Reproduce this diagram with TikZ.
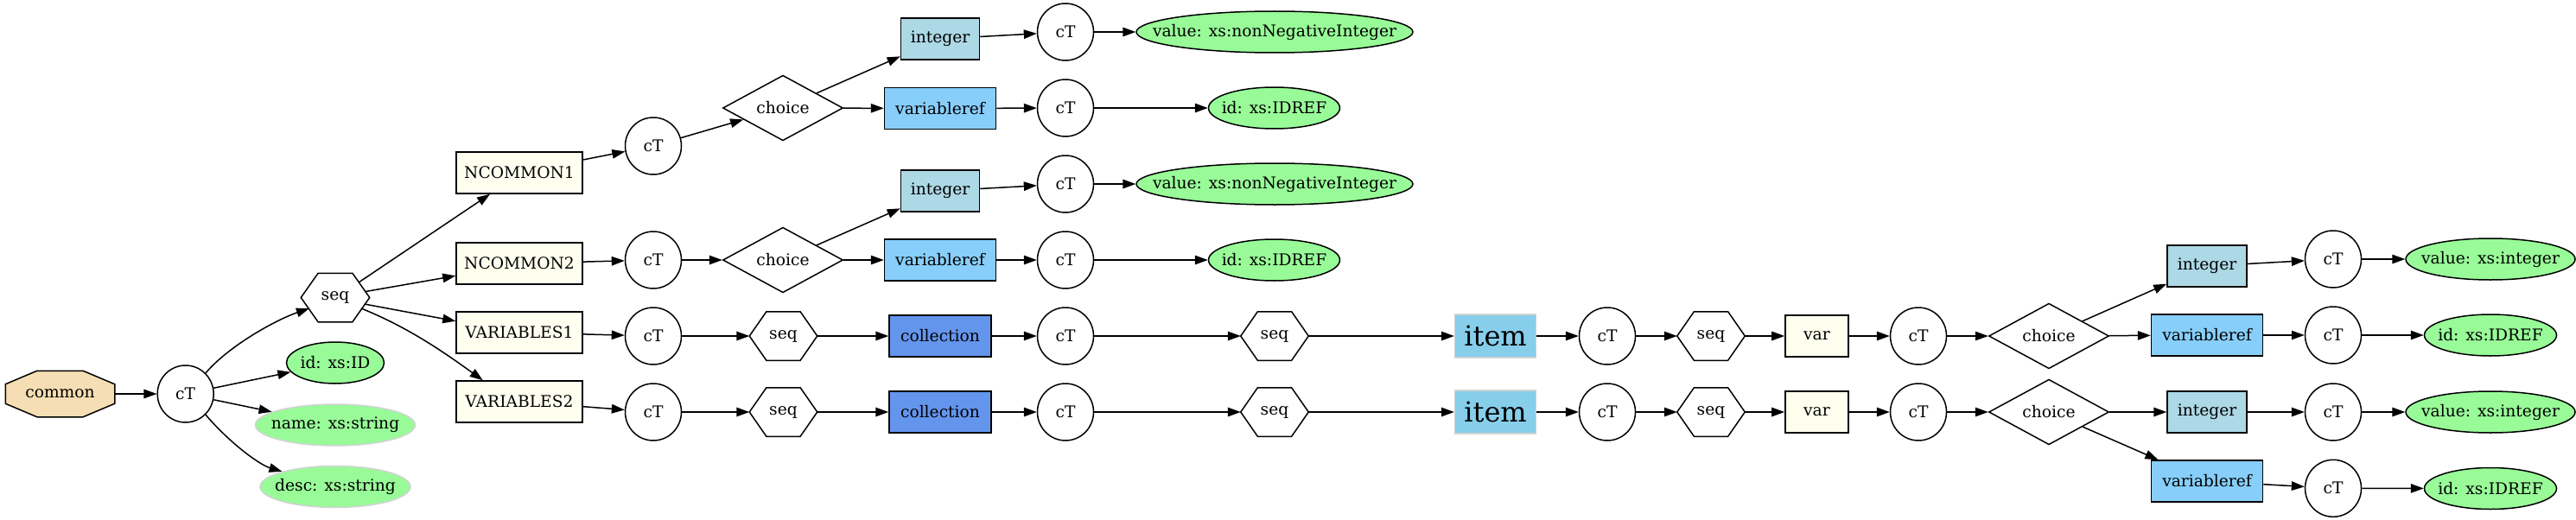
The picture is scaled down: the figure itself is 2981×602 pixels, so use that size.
\documentclass[tikz,border=0pt]{standalone}
\usepackage{fontspec}
\setmainfont{DejaVu Serif}
\usetikzlibrary{shapes.geometric,arrows.meta,calc,backgrounds}
\definecolor{wheatc}{HTML}{F5DEB3}
\definecolor{pgreen}{HTML}{98FB98}
\definecolor{lblue}{HTML}{ADD8E6}
\definecolor{lsky}{HTML}{87CEFA}
\definecolor{cfblue}{HTML}{6495ED}
\definecolor{skyb}{HTML}{87CEEB}
\definecolor{ivoryc}{HTML}{FFFFF0}
\definecolor{lgray}{HTML}{D3D3D3}
\newcommand\zw[1]{\makebox[0pt][c]{#1}}
\newcommand\drawhexa[1]{%
  \draw[line width=1.5pt] ($(#1.north west)!.25!(#1.north east)$) -- ($(#1.north west)!.75!(#1.north east)$) -- (#1.east)
   -- ($(#1.south west)!.75!(#1.south east)$) -- ($(#1.south west)!.25!(#1.south east)$) -- (#1.west) -- cycle;}
\begin{document}
\begin{tikzpicture}[x=1pt,y=-1pt,line width=1.5pt,
  font=\fontsize{18.67}{22}\selectfont,
  base/.style={inner sep=0pt,line width=1.5pt},
  ctn/.style={base,draw,ellipse,fill=white,minimum width=65pt,minimum height=66pt},
  hexn/.style={base,rectangle,minimum width=77pt,minimum height=55pt},
  octn/.style={base,rectangle,minimum width=125pt,minimum height=52pt},
  chn/.style={base,draw,diamond,minimum width=139pt,minimum height=67pt},
  attrb/.style={base,draw,ellipse,fill=pgreen,minimum height=48pt},
  attrg/.style={base,draw=lgray,ellipse,fill=pgreen,minimum height=48pt},
  ivbox/.style={base,draw,rectangle,fill=ivoryc,minimum width=146pt,minimum height=48pt},
  varbox/.style={base,draw,rectangle,fill=ivoryc,minimum width=73pt,minimum height=48pt},
  intn/.style={base,draw,rectangle,fill=lblue,minimum width=91pt,minimum height=48pt},
  vrn/.style={base,draw,rectangle,fill=lsky,minimum width=129pt,minimum height=48pt},
  coln/.style={base,draw,rectangle,fill=cfblue,minimum width=118pt,minimum height=48pt},
  itemn/.style={base,draw=lgray,rectangle,fill=skyb,minimum width=94pt,minimum height=50pt,font=\fontsize{32}{36}\selectfont},
  arr/.style={-{Triangle[length=15pt,width=10.5pt]}}]
\useasboundingbox (0,0) rectangle (2981,602);

% left part
\node[octn] (common) at (69.5,456) {common};
\node[ctn] (ct0) at (214.7,456) {cT};
\node[hexn,minimum width=78pt] (seq0) at (388,344.5) {seq};
\node[attrb,minimum width=113pt] (id0) at (388,420) {\zw{id: xs:ID}};
\node[attrg,minimum width=185pt] (name0) at (388,492) {\zw{name: xs:string}};
\node[attrg,minimum width=174pt] (desc0) at (388,563.5) {\zw{desc: xs:string}};

\node[ivbox] (nc1) at (601,200) {NCOMMON1};
\node[ivbox] (nc2) at (601,305) {NCOMMON2};
\node[ivbox] (v1) at (601,385) {VARIABLES1};
\node[ivbox] (v2) at (601,465) {VARIABLES2};

% NCOMMON1 group
\node[ctn] (ct1) at (756,169) {cT};
\node[chn] (ch1) at (906,125) {choice};
\node[intn] (int1) at (1088,45) {integer};
\node[vrn] (vr1) at (1088,125.5) {variableref};
\node[ctn] (ct1a) at (1233,37) {cT};
\node[attrb,minimum width=320pt] (val1) at (1475,37) {\zw{value: xs:nonNegativeInteger}};
\node[ctn] (ct1b) at (1233,125) {cT};
\node[attrb,minimum width=152pt] (idr1) at (1474.5,125) {\zw{id: xs:IDREF}};

% NCOMMON2 group
\node[ctn] (ct2) at (756,301) {cT};
\node[chn] (ch2) at (906,301) {choice};
\node[intn] (int2) at (1088,221) {integer};
\node[vrn] (vr2) at (1088,301) {variableref};
\node[ctn] (ct2a) at (1233,213) {cT};
\node[attrb,minimum width=320pt] (val2) at (1475,213) {\zw{value: xs:nonNegativeInteger}};
\node[ctn] (ct2b) at (1233,301) {cT};
\node[attrb,minimum width=152pt] (idr2) at (1474.5,301) {\zw{id: xs:IDREF}};

% VARIABLES rows
\foreach \r/\y in {3/389,4/477}{
  \node[ctn] (ct\r) at (756,\y) {cT};
  \node[hexn] (seq\r) at (906.5,\y) {seq};
  \node[coln] (col\r) at (1088,\y) {collection};
  \node[ctn] (cta\r) at (1233,\y) {cT};
  \node[hexn] (seqa\r) at (1475,\y) {seq};
  \node[itemn] (item\r) at (1730.6,\y) {item};
  \node[ctn] (ctb\r) at (1860,\y) {cT};
  \node[hexn] (seqb\r) at (1980,\y) {seq};
  \node[varbox] (var\r) at (2102.4,\y) {var};
  \node[ctn] (ctc\r) at (2220,\y) {cT};
  \node[chn] (ch\r) at (2371,\y) {choice};
}
\node[intn,minimum width=92pt] (int3) at (2554,308) {integer};
\node[vrn] (vr3) at (2554,388) {variableref};
\node[ctn] (ctd3) at (2700,300) {cT};
\node[attrb,minimum width=196pt] (val3) at (2882,300) {\zw{value: xs:integer}};
\node[ctn] (cte3) at (2700,388) {cT};
\node[attrb,minimum width=153pt] (idr3) at (2882,388) {\zw{id: xs:IDREF}};

\node[intn,minimum width=92pt] (int4) at (2554,477) {integer};
\node[vrn] (vr4) at (2554,557) {variableref};
\node[ctn] (ctd4) at (2700,477) {cT};
\node[attrb,minimum width=196pt] (val4) at (2882,477) {\zw{value: xs:integer}};
\node[ctn] (cte4) at (2700,565.3) {cT};
\node[attrb,minimum width=153pt] (idr4) at (2882,565.5) {\zw{id: xs:IDREF}};

% background: white page and octagon
\begin{scope}[on background layer]
  \fill[white] (0,0) rectangle (2981,602);
  \filldraw[fill=wheatc,draw=black,line width=1.5pt]
    ($(common.north west)!.29!(common.north east)$) -- ($(common.north west)!.71!(common.north east)$)
    -- ($(common.north east)!.29!(common.south east)$) -- ($(common.north east)!.71!(common.south east)$)
    -- ($(common.south west)!.71!(common.south east)$) -- ($(common.south west)!.29!(common.south east)$)
    -- ($(common.north west)!.71!(common.south west)$) -- ($(common.north west)!.29!(common.south west)$) -- cycle;
\end{scope}

% hexagons
\foreach \h in {seq0,seq3,seqa3,seqb3,seq4,seqa4,seqb4}{\drawhexa{\h}}

% edges, left part
\draw[arr] (common) -- (ct0);
\draw[arr] (ct0.46) .. controls (265,400) and (320,370) .. ([xshift=-30pt,yshift=-12.5pt]seq0.center);
\draw[arr] (ct0) -- (id0);
\draw[arr] (ct0) -- (name0);
\draw[arr] (ct0.-46) .. controls (265,512) and (300,538) .. (desc0.164);
\draw[arr] ([xshift=27pt,yshift=17.5pt]seq0.center) -- ([xshift=-34pt]nc1.south);
\draw[arr] ([xshift=34pt,yshift=6.8pt]seq0.center) -- ([yshift=-14.3pt]nc2.west);
\draw[arr] ([xshift=33.7pt,yshift=-7.5pt]seq0.center) -- ([yshift=13.3pt]v1.west);
\draw[arr] ([xshift=30pt,yshift=-12.5pt]seq0.center) .. controls (470,378) and (510,405) .. ([xshift=-42.3pt]v2.north);

% NCOMMON groups
\draw[arr] ([yshift=15pt]nc1.east) -- (ct1);
\draw[arr] (nc2) -- (ct2);
\foreach \g in {1,2}{
  \draw[arr] (ct\g) -- (ch\g);
  \draw[arr] (ch\g) -- (int\g);
  \draw[arr] (ch\g) -- (vr\g);
  \draw[arr] (int\g) -- (ct\g a);
  \draw[arr] (ct\g a) -- (val\g);
  \draw[arr] (vr\g) -- (ct\g b);
  \draw[arr] (ct\g b) -- (idr\g);
}

% VARIABLES rows
\draw[arr] (v1) -- (ct3);
\draw[arr] (v2) -- (ct4);
\foreach \r in {3,4}{
  \draw[arr] (ct\r) -- (seq\r);
  \draw[arr] (seq\r) -- (col\r);
  \draw[arr] (col\r) -- (cta\r);
  \draw[arr] (cta\r) -- (seqa\r);
  \draw[arr] (seqa\r) -- (item\r);
  \draw[arr] (item\r) -- (ctb\r);
  \draw[arr] (ctb\r) -- (seqb\r);
  \draw[arr] (seqb\r) -- (var\r);
  \draw[arr] (var\r) -- (ctc\r);
  \draw[arr] (ctc\r) -- (ch\r);
  \draw[arr] (ch\r) -- (int\r);
  \draw[arr] (ch\r) -- (vr\r);
  \draw[arr] (int\r) -- (ctd\r);
  \draw[arr] (ctd\r) -- (val\r);
  \draw[arr] (vr\r) -- (cte\r);
  \draw[arr] (cte\r) -- (idr\r);
}
\end{tikzpicture}
\end{document}
